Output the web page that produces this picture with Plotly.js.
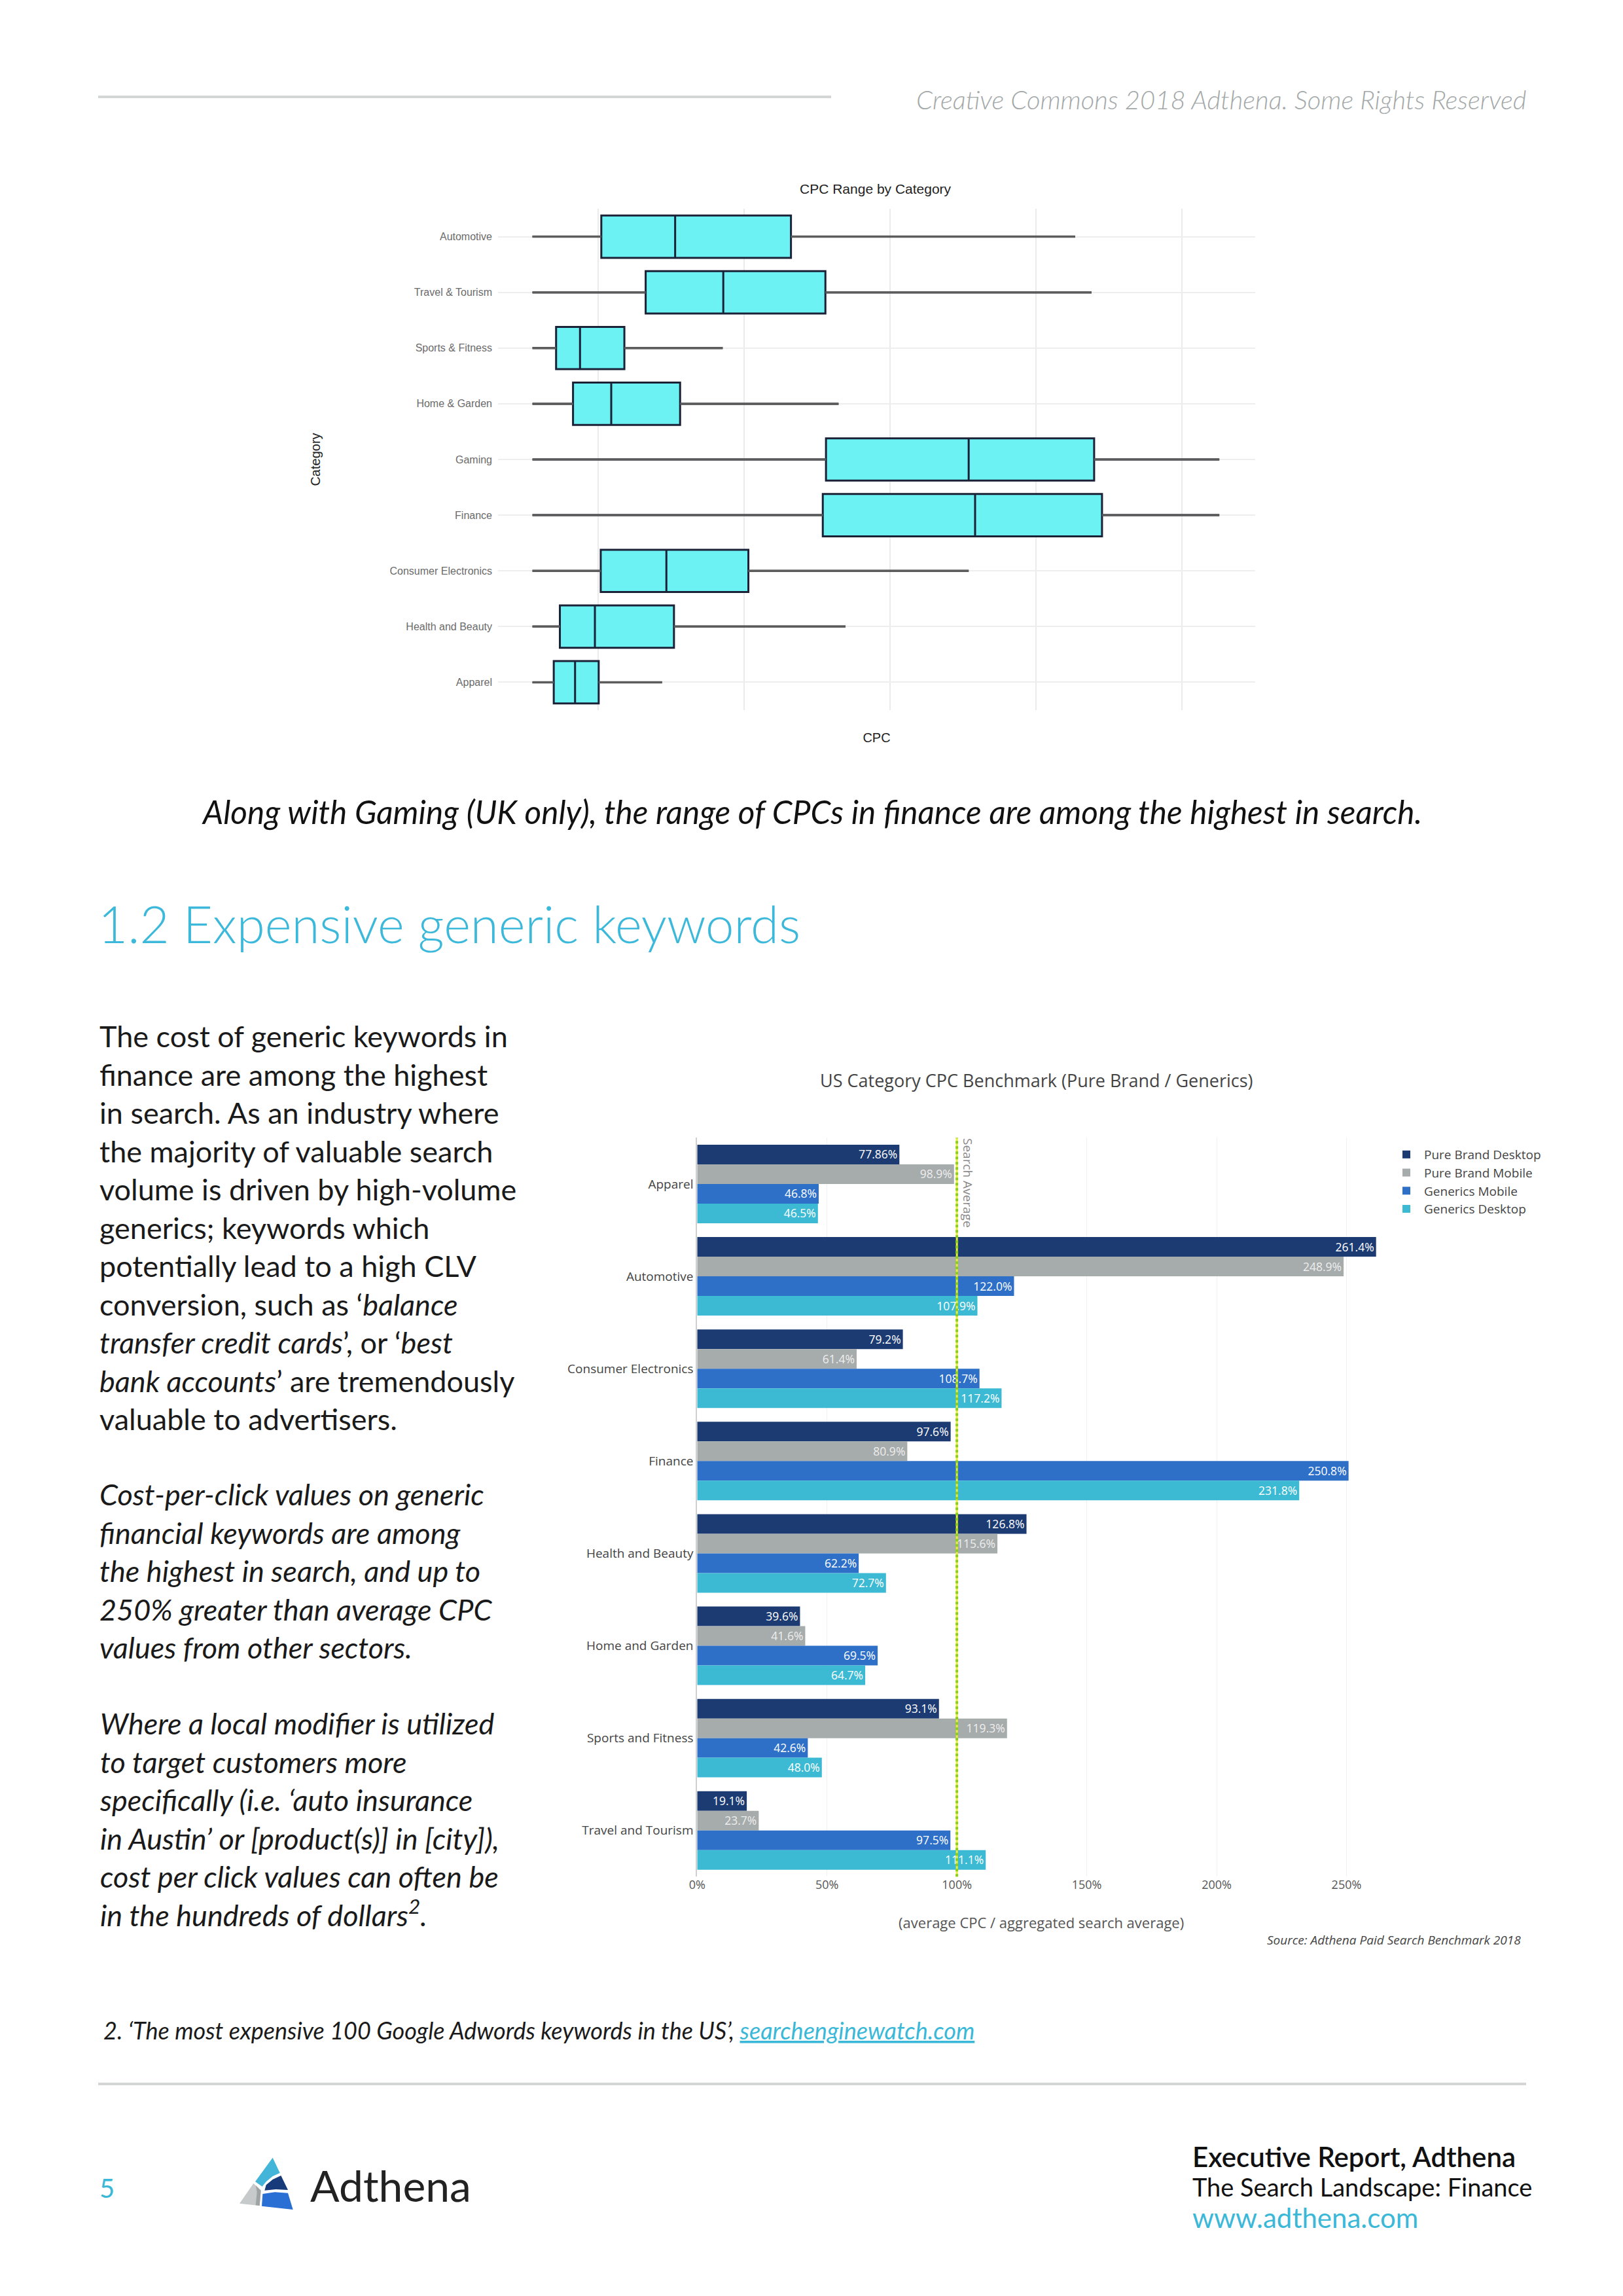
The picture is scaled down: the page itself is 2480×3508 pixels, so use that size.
<!DOCTYPE html>
<html><head><meta charset="utf-8">
<script src="https://cdn.plot.ly/plotly-3.0.1.min.js"></script>
<style>html,body{margin:0;padding:0;background:#fff}#chart{width:2480px;height:3508px}</style>
</head><body><div id="chart"></div>
<script>
// ---------- Box plot data (CPC Range by Category) ----------
const boxCategories = ['Automotive','Travel & Tourism','Sports & Fitness','Home & Garden','Gaming','Finance','Consumer Electronics','Health and Beauty','Apparel'];
const boxMin    = [2.75, 2.75, 2.75, 2.75, 2.75, 2.75, 2.75, 2.75, 2.75];
const boxQ1     = [5.11, 6.63, 3.56, 4.14, 12.81, 12.70, 5.09, 3.69, 3.48];
const boxMedian = [7.64, 9.29, 4.38, 5.45, 17.70, 17.92, 7.34, 4.89, 4.21];
const boxQ3     = [11.61, 12.79, 5.90, 7.81, 22.00, 22.27, 10.15, 7.60, 5.02];
const boxMax    = [21.35, 21.91, 9.27, 13.24, 26.29, 26.29, 17.70, 13.48, 7.19];

// ---------- Bar chart data (US Category CPC Benchmark) ----------
const barCategories = ['Apparel','Automotive','Consumer Electronics','Finance','Health and Beauty','Home and Garden','Sports and Fitness','Travel and Tourism'];
const seriesNames = ['Pure Brand Desktop','Pure Brand Mobile','Generics Mobile','Generics Desktop'];
const pureBrandDesktop = [77.86, 261.4, 79.2, 97.6, 126.8, 39.6, 93.1, 19.1];
const pureBrandMobile  = [98.9, 248.9, 61.4, 80.9, 115.6, 41.6, 119.3, 23.7];
const genericsMobile   = [46.8, 122.0, 108.7, 250.8, 62.2, 69.5, 42.6, 97.5];
const genericsDesktop  = [46.5, 107.9, 117.2, 231.8, 72.7, 64.7, 48.0, 111.1];
const xTickValues = [0, 50, 100, 150, 200, 250];
const xTickLabels = ['0%', '50%', '100%', '150%', '200%', '250%'];
const searchAverage = 100;

// ---------- helpers ----------
const W = 2480, H = 3508;
const px = x => x / W;
const py = y => 1 - y / H;
const fmt = v => (Number.isInteger(v) ? v.toFixed(1) : String(v)) + '%';

const barColors = ['#1c3b72', '#a6abab', '#2e6fc8', '#3dbad3'];
const barTextColors = ['#ffffff', '#eeeeee', '#ffffff', '#ffffff'];
const seriesValues = [pureBrandDesktop, pureBrandMobile, genericsMobile, genericsDesktop];

const traces = [];

// box plot
traces.push({
  type: 'box', orientation: 'h', xaxis: 'x', yaxis: 'y',
  y: boxCategories, q1: boxQ1, median: boxMedian, q3: boxQ3,
  lowerfence: boxMin, upperfence: boxMax,
  fillcolor: '#6cf2f2', line: {color: '#1b2238', width: 3},
  whiskerwidth: 0, boxpoints: false, showlegend: false, hoverinfo: 'skip'
});
// grey whiskers drawn from the same arrays
const wx = [], wy = [];
boxCategories.forEach((c, i) => {
  wx.push(boxMin[i], boxQ1[i], null, boxQ3[i], boxMax[i], null);
  wy.push(c, c, null, c, c, null);
});
traces.push({
  type: 'scatter', mode: 'lines', xaxis: 'x', yaxis: 'y', x: wx, y: wy,
  line: {color: '#5c5c5c', width: 3.5}, showlegend: false, hoverinfo: 'skip'
});

// bars
seriesNames.forEach((name, k) => {
  traces.push({
    type: 'bar', orientation: 'h', xaxis: 'x2', yaxis: 'y2',
    name: name, legendgroup: 'g' + k, y: barCategories, x: seriesValues[k],
    text: seriesValues[k].map(fmt), textposition: 'inside', insidetextanchor: 'end',
    textfont: {family: 'Open Sans', size: 19, color: barTextColors[k]},
    marker: {color: barColors[k], line: {width: 0}},
    hoverinfo: 'skip'
  });
});

// logo polygons (decoration)
const logoPolys = [
  {c: '#43b5d9', p: [[230,80],[263,150],[230,165],[200,190],[182,212],[150,190]]},
  {c: '#173a7a', p: [[268,162],[300,228],[245,225],[193,230],[200,205],[230,180]]},
  {c: '#2a6fd3', p: [[184,246],[240,238],[300,242],[323,318],[180,302]]},
  {c: '#c6caca', p: [[142,198],[176,230],[170,300],[78,290]]},
  {c: '#9ea4a4', p: [[152,207],[176,230],[170,300],[152,298],[158,236]]}
];
const shapes = [];
logoPolys.forEach(o => {
  const path = o.p.map((pt, i) => (i ? 'L' : 'M') + px(340 + pt[0] / 3).toFixed(5) + ',' + py(3270 + pt[1] / 3).toFixed(5)).join(' ') + ' Z';
  shapes.push({type: 'path', xref: 'paper', yref: 'paper', path: path, fillcolor: o.c, line: {width: 0}});
});
// page rules
shapes.push({type: 'line', xref: 'paper', yref: 'paper', x0: px(150), x1: px(1270), y0: py(148), y1: py(148), line: {color: '#d4d6d6', width: 4}});
shapes.push({type: 'line', xref: 'paper', yref: 'paper', x0: px(150), x1: px(2332), y0: py(3184), y1: py(3184), line: {color: '#d4d6d6', width: 4}});
// search average line
shapes.push({type: 'line', xref: 'x2', yref: 'y2 domain', x0: searchAverage, x1: searchAverage, y0: 0, y1: 1, line: {color: '#e6ef3c', width: 3}});
shapes.push({type: 'line', xref: 'x2', yref: 'y2 domain', x0: searchAverage, x1: searchAverage, y0: 0, y1: 1, line: {color: '#8ccc1e', width: 4, dash: 'dot'}});

const A = (text, x, y, opts) => Object.assign({text: text, x: px(x), y: py(y), xref: 'paper', yref: 'paper', showarrow: false, xanchor: 'left', yanchor: 'middle', align: 'left'}, opts);
const lato = (size, color, extra) => Object.assign({family: 'Lato', size: size, color: color}, extra || {});

const annotations = [
  A('Creative Commons 2018 Adthena. Some Rights Reserved', 2334, 152, {xanchor: 'right', font: lato(40, '#a3a8a8', {style: 'italic', weight: 300})}),
  A('CPC Range by Category', 1338, 289, {xanchor: 'center', font: {family: 'Liberation Sans', size: 21, color: '#222222'}}),
  A('Along with Gaming (UK only), the range of CPCs in finance are among the highest in search.', 1240, 1240, {xanchor: 'center', font: lato(49.5, '#111111', {style: 'italic'})}),
  A('1.2 Expensive generic keywords', 148, 1411, {font: lato(78, '#3cb8da', {weight: 300})}),
  A('The cost of generic keywords in<br>finance are among the highest<br>in search. As an industry where<br>the majority of valuable search<br>volume is driven by high-volume<br>generics; keywords which<br>potentially lead to a high CLV<br>conversion, such as ‘<i>balance</i><br><i>transfer credit cards</i>’, or ‘<i>best</i><br><i>bank accounts</i>’ are tremendously<br>valuable to advertisers.', 150, 1875, {font: lato(45, '#1a1a1a')}),
  A('Cost-per-click values on generic<br>financial keywords are among<br>the highest in search, and up to<br>250% greater than average CPC<br>values from other sectors.', 150, 2400, {font: lato(45, '#1a1a1a', {style: 'italic'})}),
  A('Where a local modifier is utilized<br>to target customers more<br>specifically (i.e. ‘auto insurance<br>in Austin’ or [product(s)] in [city]),<br>cost per click values can often be<br>in the hundreds of dollars<sup>2</sup>.', 150, 2779, {font: lato(45, '#1a1a1a', {style: 'italic'})}),
  A('US Category CPC Benchmark (Pure Brand / Generics)', 1584, 1650, {xanchor: 'center', font: {family: 'Open Sans', size: 27, color: '#444444'}}),
  A('Search Average', 1479, 1808, {xanchor: 'center', textangle: 90, font: {family: 'Open Sans', size: 19, color: '#888888'}}),
  A('Source: Adthena Paid Search Benchmark 2018', 1934, 2964, {font: {family: 'Open Sans', size: 19, color: '#444444', style: 'italic'}}),
  A('2. ‘The most expensive 100 Google Adwords keywords in the US’, <span style="color:#3bb8d8"><u>searchenginewatch.com</u></span>', 156, 3102, {font: lato(36, '#1a1a1a', {style: 'italic'})}),
  A('5', 150, 3343, {font: lato(40, '#3bb8d8')}),
  A('Adthena', 472, 3338, {font: lato(66, '#222222')}),
  A('Executive Report, Adthena', 1820, 3295, {font: lato(42, '#111111', {weight: 600})}),
  A('The Search Landscape: Finance', 1820, 3341, {font: lato(38, '#111111')}),
  A('www.adthena.com', 1820, 3388, {font: lato(42, '#3bb8d8')})
];

const layout = {
  width: W, height: H, autosize: false,
  margin: {l: 0, r: 0, t: 0, b: 0, pad: 0},
  paper_bgcolor: '#ffffff', plot_bgcolor: '#ffffff',
  font: {family: 'Open Sans', color: '#444444'},
  showlegend: true,
  barmode: 'group', bargap: 0.15, bargroupgap: 0, boxgap: 0.24, boxgroupgap: 0,
  xaxis: {
    domain: [px(761), px(1918)], anchor: 'y', range: [1.57, 27.52],
    tick0: 0, dtick: 5, showticklabels: false, ticks: '',
    showgrid: true, gridcolor: '#ebebeb', gridwidth: 2, zeroline: false, showline: false,
    title: {text: 'CPC', font: {family: 'Liberation Sans', size: 20, color: '#222222'}, standoff: 34}
  },
  yaxis: {
    domain: [py(1085), py(319)], anchor: 'x', type: 'category',
    categoryorder: 'array', categoryarray: boxCategories, range: [8.5, -0.5],
    showgrid: true, gridcolor: '#eeeeee', gridwidth: 2, zeroline: false, showline: false, ticks: '',
    ticklabelstandoff: 8,
    tickfont: {family: 'Liberation Sans', size: 16, color: '#6b6b6b'},
    title: {text: 'Category', font: {family: 'Liberation Sans', size: 20, color: '#222222'}, standoff: 100}
  },
  xaxis2: {
    domain: [px(1065.3), px(2117)], anchor: 'y2', range: [0, 265],
    tickmode: 'array', tickvals: xTickValues, ticktext: xTickLabels, ticks: '',
    showgrid: true, gridcolor: '#f1f1f1', gridwidth: 1, zeroline: false, showline: false,
    tickfont: {family: 'Open Sans', size: 18, color: '#555555'},
    title: {text: '(average CPC / aggregated search average)', font: {family: 'Open Sans', size: 22, color: '#555555'}, standoff: 40}
  },
  yaxis2: {
    domain: [py(2867.3), py(1738.4)], anchor: 'x2', type: 'category',
    categoryorder: 'array', categoryarray: barCategories, range: [7.5, -0.5],
    showgrid: false, zeroline: false, showline: true, linecolor: '#cfcfcf', linewidth: 2, ticks: '',
    ticklabelstandoff: 0,
    tickfont: {family: 'Open Sans', size: 19, color: '#444444'}
  },
  legend: {
    x: px(2122), y: py(1745), xanchor: 'left', yanchor: 'top',
    font: {family: 'Open Sans', size: 19, color: '#444444'},
    bgcolor: 'rgba(0,0,0,0)', traceorder: 'normal', tracegroupgap: 2, itemwidth: 44
  },
  shapes: shapes,
  annotations: annotations
};

Plotly.newPlot('chart', traces, layout, {displayModeBar: false, staticPlot: true});
</script>
</body></html>
